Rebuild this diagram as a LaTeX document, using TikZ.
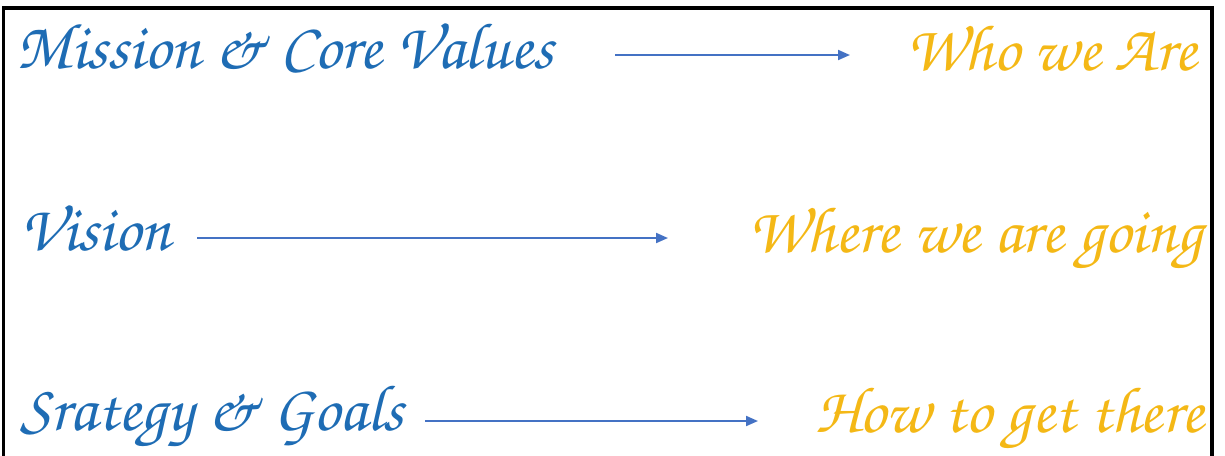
\documentclass[tikz,border=0pt]{standalone}
\usepackage[T1]{fontenc}
\usepackage{tikz}
\usetikzlibrary{arrows.meta}

\definecolor{valblue}{RGB}{30,108,180}
\definecolor{valgold}{RGB}{244,184,22}
\definecolor{arrowblue}{RGB}{68,114,196}

\newcommand\handfont{\usefont{T1}{pzc}{mb}{it}\fontsize{49}{55}\selectfont}

\tikzset{
  lefttext/.style={anchor=base west, inner sep=0pt, text=valblue, font=\handfont},
  righttext/.style={anchor=base west, inner sep=0pt, text=valgold, font=\handfont},
  flow/.style={draw=arrowblue, line width=1.5pt, -{Triangle[length=9pt,width=7.5pt]}}
}

\begin{document}
\begin{tikzpicture}[x=0.75pt,y=0.75pt,yscale=-1,xscale=1]
\path[use as bounding box] (0,0) rectangle (1225,455);
\clip (0,0) rectangle (1225,455);

%Frame, open at the bottom
\draw[line width=2.3pt] (3.5,470) -- (3.5,8) -- (1212,8) -- (1212,470);

% Text Nodes
\node[lefttext] (mission) at (16,68) {Mission \& Core Values};
\node[righttext] (who) at (906,70) {Who we Are};
\node[lefttext] (vision) at (20,250) {Vision};
\node[righttext] (where) at (748,252) {Where we are going};
\node[lefttext] (strategy) at (20,430) {Srategy \& Goals};
\node[righttext] (how) at (815,432) {How to get there};

% Arrow ends
\coordinate (m1) at (615,55);  \coordinate (m2) at (850,55);
\coordinate (v1) at (197,238); \coordinate (v2) at (668,238);
\coordinate (s1) at (425,421); \coordinate (s2) at (758,421);

% Arrows
\draw[flow] (m1) -- (m2);
\draw[flow] (v1) -- (v2);
\draw[flow] (s1) -- (s2);

\end{tikzpicture}
\end{document}
